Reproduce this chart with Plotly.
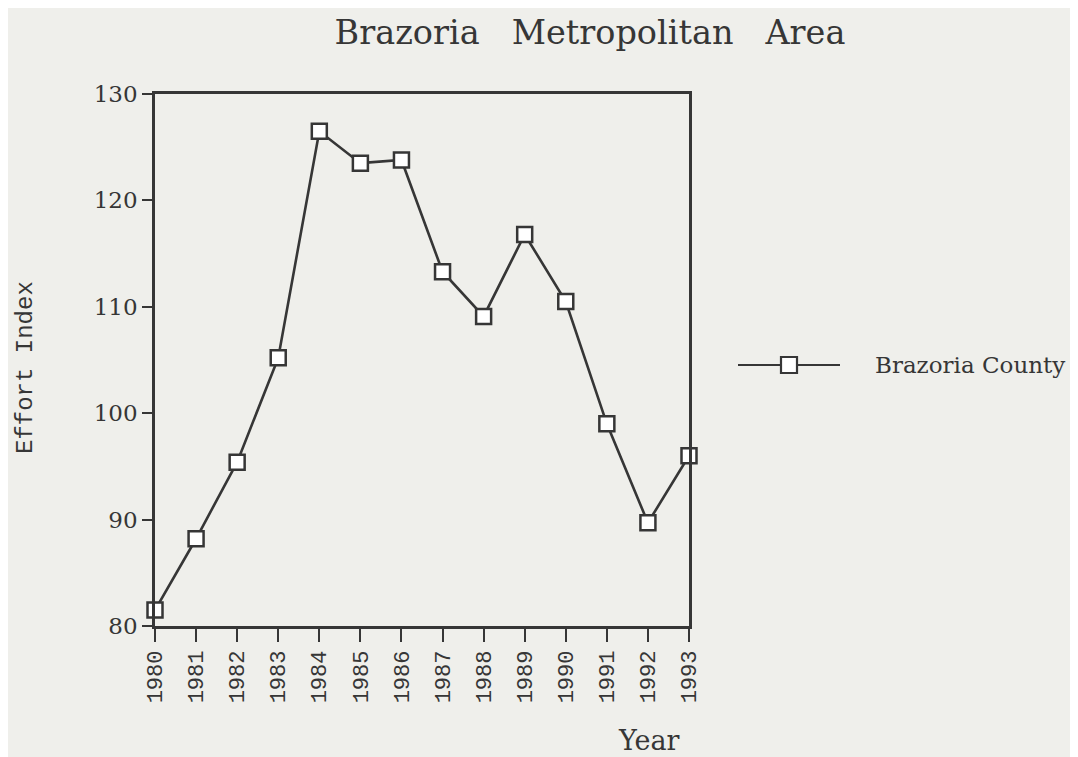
import plotly.graph_objects as go

years = list(range(1980, 1994))
effort_index = [81.5, 88.2, 95.4, 105.2, 126.5, 123.5, 123.8, 113.3, 109.1, 116.8, 110.5, 99.0, 89.7, 96.0]
series_name = "Brazoria County"
y_ticks = [80, 90, 100, 110, 120, 130]

ink = "#363636"
bg = "#efefeb"

# page body adds an 8px offset; the figure is sized to compensate
W, H = 1070, 749
L, R, T, B = 147, 389, 86, 131
PW, PH = W - L - R, H - T - B


def px(xs):  # reference screen x -> paper x
    return (xs - 8 - L) / PW


def py(ys):  # reference screen y -> paper y
    return 1 - (ys - 8 - T) / PH


fig = go.Figure()
fig.add_trace(go.Scatter(
    x=years, y=effort_index, mode="lines+markers", name=series_name,
    line=dict(color=ink, width=2.6),
    marker=dict(symbol="square", size=15, color="white", line=dict(color=ink, width=2.5)),
    cliponaxis=False, showlegend=False,
))

fig.update_layout(
    width=W, height=H,
    paper_bgcolor=bg, plot_bgcolor=bg,
    margin=dict(l=L, r=R, t=T, b=B),
    title=dict(text="Brazoria&nbsp;&nbsp; Metropolitan&nbsp;&nbsp; Area", x=(590 - 8) / W, xanchor="center",
               y=1 - (32 - 8) / H, yanchor="middle",
               font=dict(family="DejaVu Serif", size=33.5, color=ink)),
    xaxis=dict(range=[1980, 1993], tickmode="array", tickvals=years, ticktext=[str(y) for y in years],
               tickangle=-90, ticks="outside", ticklen=13, tickwidth=2.2, tickcolor=ink,
               showline=True, linecolor=ink, linewidth=2.5, mirror=True, showgrid=False, zeroline=False,
               tickfont=dict(family="Liberation Mono", size=22, color=ink)),
    yaxis=dict(range=[80, 130], tickmode="array", tickvals=y_ticks,
               ticks="outside", ticklen=10, tickwidth=2.2, tickcolor=ink,
               showline=True, linecolor=ink, linewidth=2.5, mirror=True, showgrid=False, zeroline=False,
               tickfont=dict(family="DejaVu Serif", size=23, color=ink)),
)

# y-axis title
fig.add_annotation(text="Effort Index", xref="paper", yref="paper", x=px(25), y=py(368),
                   xanchor="center", yanchor="middle", textangle=-90, showarrow=False,
                   font=dict(family="Liberation Mono", size=24, color=ink))

# x-axis title
fig.add_annotation(text="Year", xref="paper", yref="paper", x=px(649), y=py(740),
                   xanchor="center", yanchor="middle", showarrow=False,
                   font=dict(family="DejaVu Serif", size=27, color=ink))

# legend (drawn manually)
ly = py(365)
fig.add_shape(type="line", xref="paper", yref="paper", x0=px(738), x1=px(840), y0=ly, y1=ly,
              line=dict(color=ink, width=2.2))
fig.add_shape(type="rect", xref="paper", yref="paper", x0=px(781), x1=px(797),
              y0=ly - 8 / PH, y1=ly + 8 / PH, fillcolor="white", line=dict(color=ink, width=2.2))
fig.add_annotation(text=series_name, xref="paper", yref="paper", x=px(873), y=ly,
                   xanchor="left", yanchor="middle", showarrow=False,
                   font=dict(family="DejaVu Serif", size=23, color=ink))

fig.write_html("out.html")
